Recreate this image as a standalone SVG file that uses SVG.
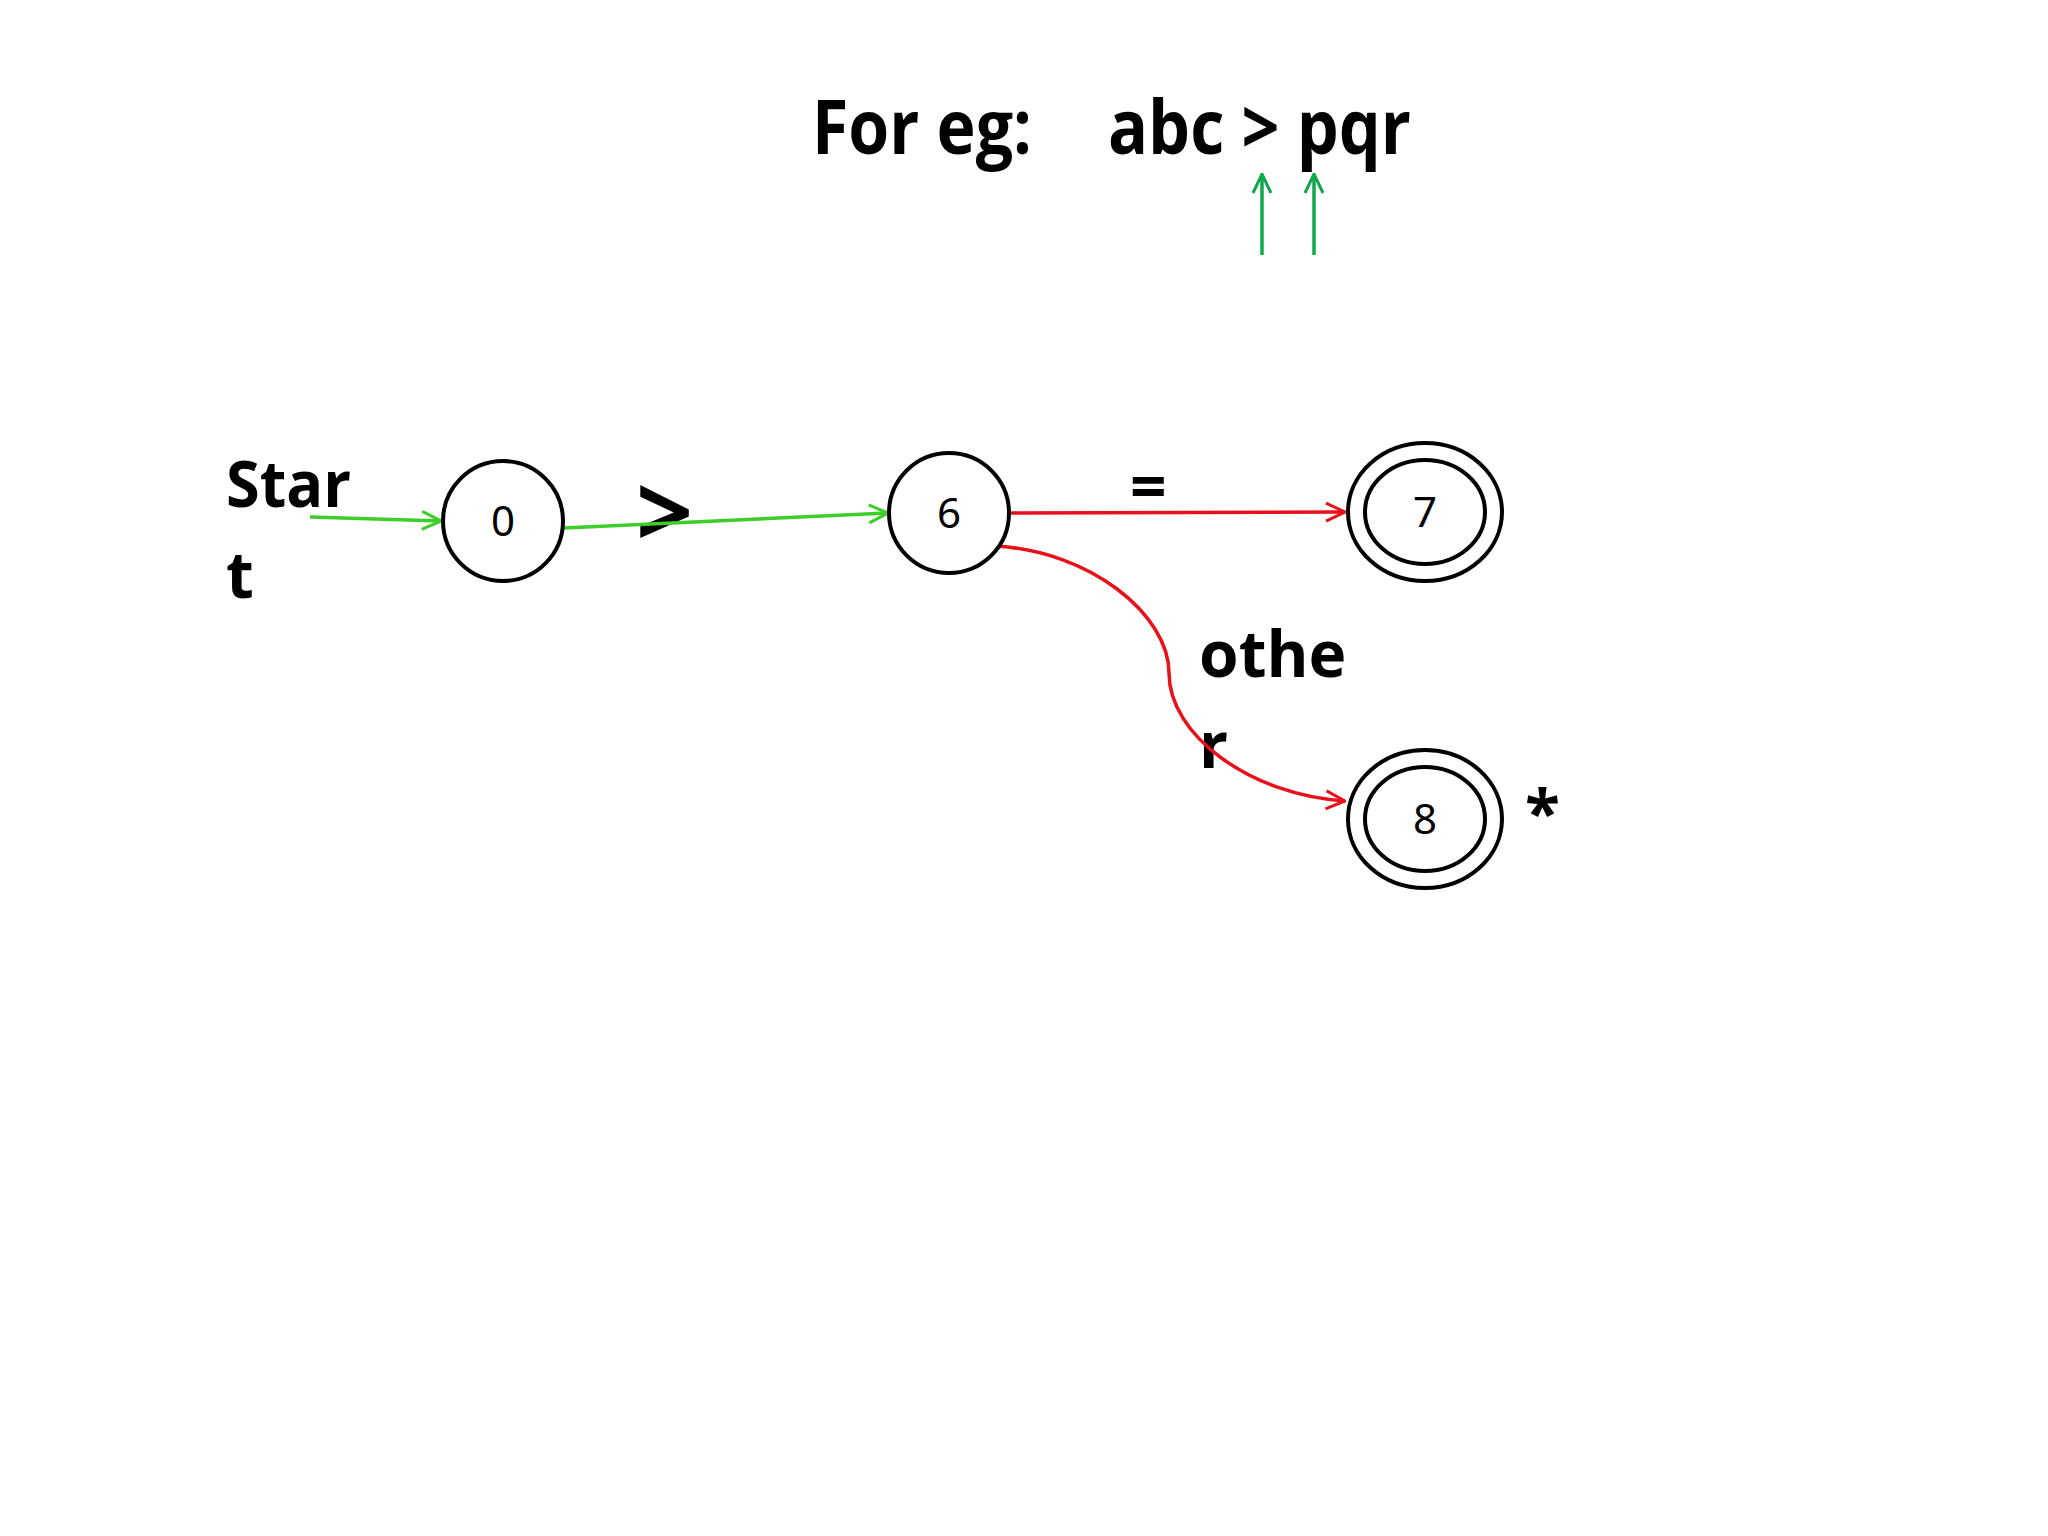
<svg xmlns="http://www.w3.org/2000/svg" width="2048" height="1536" viewBox="0 0 2048 1536">
<defs>
<style>
.b{font-family:"Open Sans","Noto Sans",sans-serif;font-weight:bold;fill:#000}
.n{font-family:"Noto Sans","Open Sans",sans-serif;font-size:42px;fill:#000;text-anchor:middle}
.c{fill:#fff;stroke:#000;stroke-width:4}
.g{fill:none;stroke:#3ccf2a;stroke-width:3.5}
.r{fill:none;stroke:#e8101a;stroke-width:3.5}
.d{fill:none;stroke:#10a84a;stroke-width:3.5}
</style>
<marker id="ar" markerWidth="22" markerHeight="22" refX="21" refY="11" orient="auto" markerUnits="userSpaceOnUse" viewBox="0 0 22 22"><path d="M2,2 L21,11 L2,20" fill="none" stroke="#e8101a" stroke-width="3"/></marker>
<marker id="agr" markerWidth="22" markerHeight="22" refX="21" refY="11" orient="auto" markerUnits="userSpaceOnUse" viewBox="0 0 22 22"><path d="M2,2 L21,11 L2,20" fill="none" stroke="#3ccf2a" stroke-width="3"/></marker>
<marker id="ad" markerWidth="22" markerHeight="22" refX="21" refY="11" orient="auto" markerUnits="userSpaceOnUse" viewBox="0 0 22 22"><path d="M2,2 L21,11 L2,20" fill="none" stroke="#10a84a" stroke-width="3"/></marker>
</defs>
<rect width="2048" height="1536" fill="#fff"/>
<text class="b" x="812" y="154" font-size="76" textLength="220" lengthAdjust="spacingAndGlyphs">For eg:</text>
<text class="b" x="1108" y="154" font-size="76" textLength="303" lengthAdjust="spacingAndGlyphs">abc &gt; pqr</text>
<text class="b" x="226" y="507" font-size="64" textLength="125" lengthAdjust="spacingAndGlyphs">Star</text>
<text class="b" x="226" y="598" font-size="64">t</text>
<text class="b" x="636" y="548" font-size="100">&gt;</text>
<text class="b" x="1130" y="509" font-size="64">=</text>
<text class="b" x="1199" y="677" font-size="64">othe</text>
<text class="b" x="1199" y="768" font-size="64">r</text>
<text class="b" x="1525" y="836" font-size="64">*</text>
<g id="connectors">
<line class="d" x1="1262" y1="255" x2="1262" y2="174" marker-end="url(#ad)"/>
<line class="d" x1="1314" y1="255" x2="1314" y2="174" marker-end="url(#ad)"/>
<line class="g" x1="310" y1="517" x2="441" y2="521" marker-end="url(#agr)"/>
<line class="g" x1="564" y1="528" x2="888" y2="513" marker-end="url(#agr)"/>
<line class="r" x1="1010" y1="513" x2="1345" y2="512" marker-end="url(#ar)"/>
<path class="r" d="M993,546 C1090,550 1169,615 1169,673 C1169,735 1250,795 1345,801" marker-end="url(#ar)"/>
</g>
<g id="node0"><circle class="c" cx="503" cy="521" r="60"/><text class="n" x="503" y="536">0</text></g>
<g id="node6"><circle class="c" cx="949" cy="513" r="60"/><text class="n" x="949" y="528">6</text></g>
<g id="node7"><ellipse class="c" cx="1425" cy="512" rx="77" ry="69"/><ellipse class="c" cx="1425" cy="512" rx="60" ry="52"/><text class="n" x="1425" y="527">7</text></g>
<g id="node8"><ellipse class="c" cx="1425" cy="819" rx="77" ry="69"/><ellipse class="c" cx="1425" cy="819" rx="60" ry="52"/><text class="n" x="1425" y="834">8</text></g>
</svg>
